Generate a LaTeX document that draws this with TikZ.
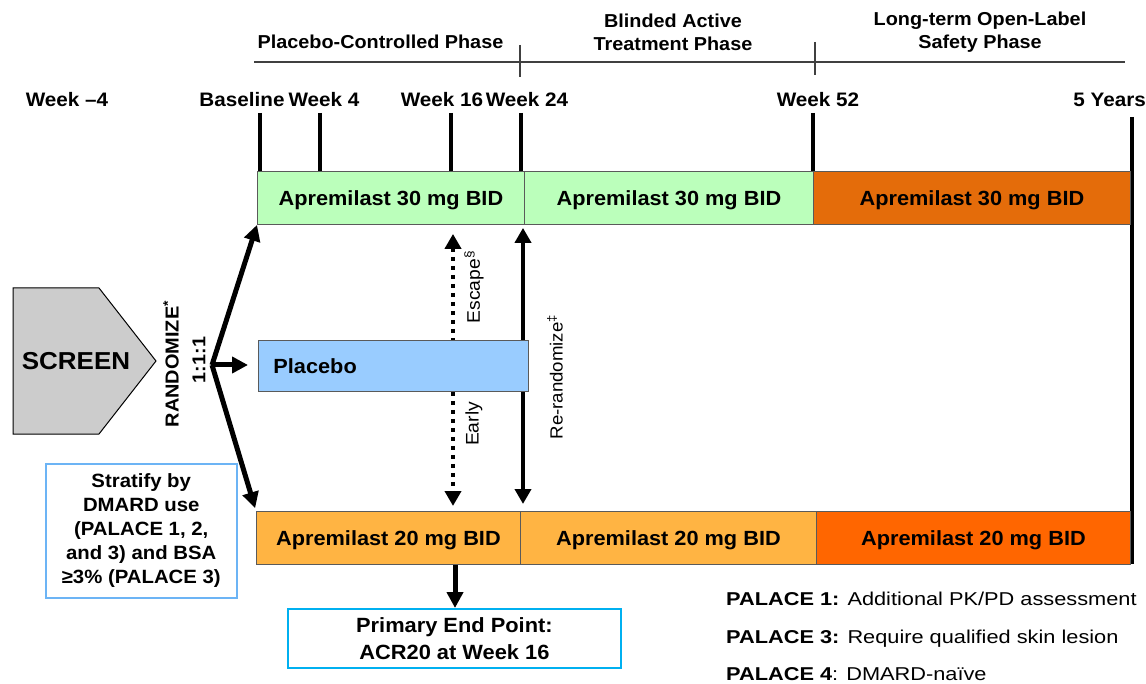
\documentclass[tikz,border=0pt]{standalone}
\usepackage{fontspec}
\setmainfont{Liberation Sans}[FakeStretch=1.06]
\newfontfamily\widefont{Liberation Sans}[FakeStretch=1.17]
\usetikzlibrary{arrows.meta,calc}
\pgfdeclarelayer{bg}
\pgfsetlayers{bg,main}
\definecolor{cGreen}{HTML}{BBFFBB}
\definecolor{cOrTop}{HTML}{E46C0A}
\definecolor{cOrLight}{HTML}{FFB443}
\definecolor{cOrBot}{HTML}{FF6600}
\definecolor{cBlue}{HTML}{99CCFF}
\definecolor{cGray}{HTML}{CCCCCC}
\definecolor{cStrat}{HTML}{6CB4F5}
\definecolor{cPrim}{HTML}{00B0F0}
\definecolor{cEdge}{HTML}{5A5A5A}
\definecolor{cHead}{HTML}{404040}
\begin{document}
\begin{tikzpicture}[x=1pt,y=-1pt,
  bar/.style={draw=cEdge, line width=0.9pt, minimum height=53pt, inner sep=0pt,
    anchor=north west, text height=14.8pt, text depth=0pt,
    font=\fontsize{20.5}{24}\selectfont\bfseries},
  weeklbl/.style={anchor=base, inner sep=0pt, font=\fontsize{19.5}{22}\selectfont\bfseries},
  phase/.style={align=center, inner sep=0pt, font=\fontsize{18.7}{23}\selectfont\bfseries},
  tickline/.style={line width=4.6pt},
  hline/.style={draw=cHead, line width=1.2pt},
  arr/.style={line width=5pt, -{Triangle[length=16pt,width=16pt]}},
  darr/.style={line width=4.5pt, {Triangle[length=15pt,width=16pt]}-{Triangle[length=15pt,width=16pt]}},
  dotarr/.style={darr, dash pattern=on 4.5pt off 4.5pt},
  rotlbl/.style={rotate=90, inner sep=0pt, font=\fontsize{18.2}{20}\selectfont},
  note/.style={anchor=base west, inner sep=0pt, font=\widefont\fontsize{18.6}{20}\selectfont}
]
\useasboundingbox (0,0) rectangle (1146,684);

% phase headings
\node[phase] (ph1) at (380.5,42) {Placebo-Controlled Phase};
\node[phase] (ph2) at (673,32.5) {Blinded Active\\Treatment Phase};
\node[phase] (ph3) at (980,32.5) {Long-term Open-Label\\Safety Phase};
\draw[hline] (254,62) -- (1125,62);
\draw[hline] (520,45) -- (520,77);
\draw[hline] (815,42) -- (815,75);

% week labels
\node[weeklbl] (wm4) at (67,107) {Week \textendash 4};
\node[weeklbl] (wbl) at (242,107) {Baseline};
\node[weeklbl] (w4) at (324,107) {Week 4};
\node[weeklbl] (w16) at (442,107) {Week 16};
\node[weeklbl] (w24) at (527,107) {Week 24};
\node[weeklbl] (w52) at (818,107) {Week 52};
\node[weeklbl, anchor=base east] (w5y) at (1146,107) {5 Years};

% ticks
\draw[tickline] (260,113) -- (260,171);
\draw[tickline] (320,113) -- (320,171);
\draw[tickline] (451,113) -- (451,171);
\draw[tickline] (521,113) -- (521,171);
\draw[tickline] (813,113) -- (813,171);
\draw[tickline] (1132,117) -- (1132,564);

% top bars
\node[bar, fill=cGreen, minimum width=267pt] (t1) at (257,171) {Apremilast 30 mg BID};
\node[bar, fill=cGreen, minimum width=289pt] (t2) at (524,171) {Apremilast 30 mg BID};
\node[bar, fill=cOrTop, minimum width=317pt] (t3) at (813,171) {Apremilast 30 mg BID};

% bottom bars
\node[bar, fill=cOrLight, minimum width=264pt] (b1) at (256,511) {Apremilast 20 mg BID};
\node[bar, fill=cOrLight, minimum width=296pt] (b2) at (520,511) {Apremilast 20 mg BID};
\node[bar, fill=cOrBot, minimum width=314pt] (b3) at (816,511) {Apremilast 20 mg BID};

% placebo
\node[bar, fill=cBlue, minimum width=270pt, minimum height=51pt, text width=240pt,
  inner xsep=15pt, align=left] (pl) at (258,340) {Placebo};

% screen
\draw[fill=cGray, draw=black, line width=1pt] (13,288) -- (99,288) -- (156,361) -- (99,434) -- (13,434) -- cycle;
\node[font=\fontsize{24.5}{26}\selectfont\bfseries, inner sep=0pt] (screen) at (76,361) {SCREEN};

% randomize
\node[rotlbl, font=\fontsize{18.8}{20}\selectfont\bfseries] (rand) at (171,364) {RANDOMIZE\textsuperscript{*}};
\node[rotlbl, font=\fontsize{18.6}{20}\selectfont\bfseries] (ratio) at (199,360) {1:1:1};

\coordinate (fork) at (212,365);
\coordinate (x16) at (453,0);
\coordinate (x24) at (523,0);
\coordinate (xpe) at (455,0);

% stratify
\node[draw=cStrat, line width=1.5pt, minimum width=191pt, minimum height=134pt, anchor=north west,
  align=center, inner sep=0pt, font=\fontsize{19.2}{24}\selectfont\bfseries] (strat) at (45,463)
  {Stratify by\\DMARD use\\(PALACE 1, 2,\\and 3) and BSA\\≥3\% (PALACE 3)};

% primary end point
\node[draw=cPrim, line width=1.8pt, minimum width=333pt, minimum height=59pt, anchor=north west,
  align=center, inner sep=0pt, font=\fontsize{20.6}{27}\selectfont\bfseries] (prim) at (287,608)
  {Primary End Point:\\ACR20 at Week 16};

% rotated labels
\node[rotlbl] (esc) at (474,287) {Escape\textsuperscript{\S}};
\node[rotlbl] (early) at (474,424) {Early};
\node[rotlbl, font=\fontsize{17.6}{20}\selectfont] (rerand) at (555,377) {Re-randomize\textsuperscript{\ddag}};

% notes
\node[note] (p1) at (726,605) {\textbf{PALACE 1:} Additional PK/PD assessment};
\node[note] (p3) at (726,643) {\textbf{PALACE 3:} Require qualified skin lesion};
\node[note] (p4) at (726,680) {\textbf{PALACE 4}: DMARD-naïve};

% connectors
\begin{pgfonlayer}{bg}
\draw[arr] (fork) -- (t1.south west);
\draw[arr, shorten >=3pt] (fork) -- (b1.north west);
\draw[arr, shorten >=10pt] (fork) -- (pl.west |- fork);
\draw[dotarr, shorten <=9pt, shorten >=5pt] (t1.south -| x16) -- (b1.north -| x16);
\draw[darr, shorten <=3pt, shorten >=7pt] (t1.south -| x24) -- (b1.north -| x24);
\end{pgfonlayer}
\draw[arr] (b1.south -| xpe) -- (prim.north -| xpe);
\end{tikzpicture}
\end{document}
